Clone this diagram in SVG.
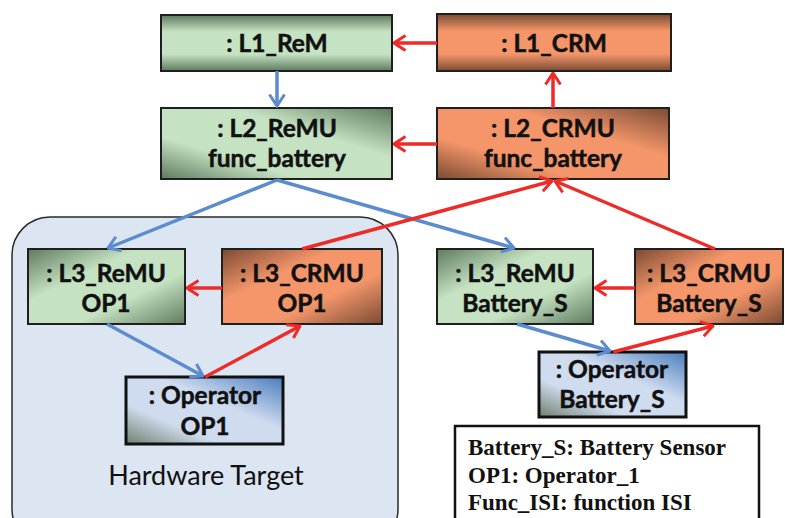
<svg xmlns="http://www.w3.org/2000/svg" width="785" height="518" viewBox="0 0 785 518">
<style>
.n{stroke:#1f1f1f;stroke-width:2}
.op{stroke:#111;stroke-width:3}
.t{font-family:Lato,"Open Sans","Liberation Sans",sans-serif;font-weight:bold;font-size:24.5px;fill:#111;stroke:#111;stroke-width:0.5;text-anchor:middle}
.b{fill:none;stroke:#5b8bd0;stroke-width:3.5}
.r{fill:none;stroke:#ee2b26;stroke-width:3.5}
.lg{font-family:"Liberation Serif",serif;font-weight:bold;font-size:23px;fill:#111}
</style>
<defs>
<linearGradient id="gV" x1="0" y1="0" x2="0" y2="1"><stop offset="0" stop-color="#5f7a5e"/><stop offset="0.3" stop-color="#c5e2c2"/><stop offset="0.7" stop-color="#c5e2c2"/><stop offset="1" stop-color="#5f7a5e"/></linearGradient>
<linearGradient id="gA" x1="0" y1="1" x2="1" y2="0"><stop offset="0" stop-color="#5f7a5e"/><stop offset="0.3" stop-color="#c5e2c2"/><stop offset="0.65" stop-color="#c5e2c2"/><stop offset="1" stop-color="#5f7a5e"/></linearGradient>
<linearGradient id="gB" x1="0" y1="0" x2="1" y2="1"><stop offset="0" stop-color="#5f7a5e"/><stop offset="0.35" stop-color="#c5e2c2"/><stop offset="0.65" stop-color="#c5e2c2"/><stop offset="1" stop-color="#5f7a5e"/></linearGradient>
<linearGradient id="oV" x1="0" y1="0" x2="0" y2="1"><stop offset="0" stop-color="#7b4b33"/><stop offset="0.3" stop-color="#f4966a"/><stop offset="0.7" stop-color="#f4966a"/><stop offset="1" stop-color="#7b4b33"/></linearGradient>
<linearGradient id="oA" x1="0" y1="1" x2="1" y2="0"><stop offset="0" stop-color="#7b4b33"/><stop offset="0.3" stop-color="#f4966a"/><stop offset="0.65" stop-color="#f4966a"/><stop offset="1" stop-color="#7b4b33"/></linearGradient>
<linearGradient id="oB" x1="0" y1="0" x2="1" y2="1"><stop offset="0" stop-color="#7b4b33"/><stop offset="0.35" stop-color="#f4966a"/><stop offset="0.65" stop-color="#f4966a"/><stop offset="1" stop-color="#7b4b33"/></linearGradient>
<linearGradient id="bA" x1="0" y1="1" x2="1" y2="0"><stop offset="0" stop-color="#6f7f6c"/><stop offset="0.3" stop-color="#cfdcef"/><stop offset="0.6" stop-color="#cfdcef"/><stop offset="1" stop-color="#4a7dbd"/></linearGradient>
<marker id="ab" viewBox="0 0 14 18" refX="12.5" refY="9" markerWidth="14" markerHeight="18" orient="auto" markerUnits="userSpaceOnUse"><path d="M1,1.5 L12.5,9 L1,16.5" fill="none" stroke="#5b8bd0" stroke-width="3"/></marker>
<marker id="ar" viewBox="0 0 14 18" refX="12.5" refY="9" markerWidth="14" markerHeight="18" orient="auto" markerUnits="userSpaceOnUse"><path d="M1,1.5 L12.5,9 L1,16.5" fill="none" stroke="#ee2b26" stroke-width="3"/></marker>
</defs>
<g id="hardware-target">
<rect x="12" y="217" width="386" height="330" rx="38" fill="#dce6f2" stroke="#2a2a2a" stroke-width="1.5"/>
<text x="206" y="485" font-family="Lato,'Open Sans','Liberation Sans',sans-serif" font-size="27" fill="#111" text-anchor="middle">Hardware Target</text>
</g>
<g id="L1_ReM"><rect class="n" x="161" y="15" width="231" height="56" fill="url(#gV)"/><text class="t" x="277" y="52">: L1_ReM</text></g>
<g id="L1_CRM"><rect class="n" x="437" y="14" width="234" height="57" fill="url(#oV)"/><text class="t" x="554" y="52">: L1_CRM</text></g>
<g id="L2_ReMU"><rect class="n" x="161" y="108" width="231" height="71" fill="url(#gA)"/><text class="t" x="277" y="137">: L2_ReMU</text><text class="t" x="277" y="167">func_battery</text></g>
<g id="L2_CRMU"><rect class="n" x="437" y="108" width="232" height="71" fill="url(#oA)"/><text class="t" x="553" y="137">: L2_CRMU</text><text class="t" x="553" y="167">func_battery</text></g>
<g id="L3_ReMU_OP1"><rect class="n" x="28" y="249" width="157" height="75" fill="url(#gB)"/><text class="t" x="106" y="282">: L3_ReMU</text><text class="t" x="106" y="312">OP1</text></g>
<g id="L3_CRMU_OP1"><rect class="n" x="222" y="249" width="160" height="75" fill="url(#oB)"/><text class="t" x="302" y="282">: L3_CRMU</text><text class="t" x="302" y="312">OP1</text></g>
<g id="Operator_OP1"><rect class="op" x="126" y="377" width="157" height="67" fill="url(#bA)"/><text class="t" x="205" y="404">: Operator</text><text class="t" x="205" y="435">OP1</text></g>
<g id="L3_ReMU_Battery_S"><rect class="n" x="437" y="249" width="156" height="75" fill="url(#gB)"/><text class="t" x="515" y="282">: L3_ReMU</text><text class="t" x="515" y="312">Battery_S</text></g>
<g id="L3_CRMU_Battery_S"><rect class="n" x="635" y="249" width="148" height="75" fill="url(#oB)"/><text class="t" x="709" y="282">: L3_CRMU</text><text class="t" x="709" y="312">Battery_S</text></g>
<g id="Operator_Battery_S"><rect class="op" x="539" y="352" width="147" height="65" fill="url(#bA)"/><text class="t" x="612" y="378">: Operator</text><text class="t" x="612" y="408">Battery_S</text></g>
<g id="legend">
<rect x="455" y="426" width="304" height="110" fill="#fff" stroke="#111" stroke-width="2.5"/>
<text class="lg" x="468" y="455">Battery_S: Battery Sensor</text>
<text class="lg" x="468" y="483">OP1: Operator_1</text>
<text class="lg" x="468" y="510">Func_ISI: function ISI</text>
</g>
<g id="connectors">
<line class="b" x1="277" y1="71" x2="277" y2="106" marker-end="url(#ab)"/>
<line class="r" x1="437" y1="43" x2="394" y2="43" marker-end="url(#ar)"/>
<line class="r" x1="437" y1="144" x2="394" y2="144" marker-end="url(#ar)"/>
<line class="r" x1="553" y1="108" x2="553" y2="73" marker-end="url(#ar)"/>
<line class="b" x1="277" y1="180" x2="108" y2="248" marker-end="url(#ab)"/>
<line class="b" x1="277" y1="180" x2="514" y2="248" marker-end="url(#ab)"/>
<line class="r" x1="302" y1="249" x2="552" y2="181" marker-end="url(#ar)"/>
<line class="r" x1="715" y1="249" x2="555" y2="181" marker-end="url(#ar)"/>
<line class="r" x1="222" y1="288" x2="187" y2="288" marker-end="url(#ar)"/>
<line class="r" x1="635" y1="288" x2="595" y2="288" marker-end="url(#ar)"/>
<line class="b" x1="107" y1="324" x2="203" y2="376" marker-end="url(#ab)"/>
<line class="r" x1="205" y1="377" x2="300" y2="326" marker-end="url(#ar)"/>
<line class="b" x1="517" y1="324" x2="610" y2="351" marker-end="url(#ab)"/>
<line class="r" x1="613" y1="352" x2="713" y2="326" marker-end="url(#ar)"/>
</g>
</svg>
